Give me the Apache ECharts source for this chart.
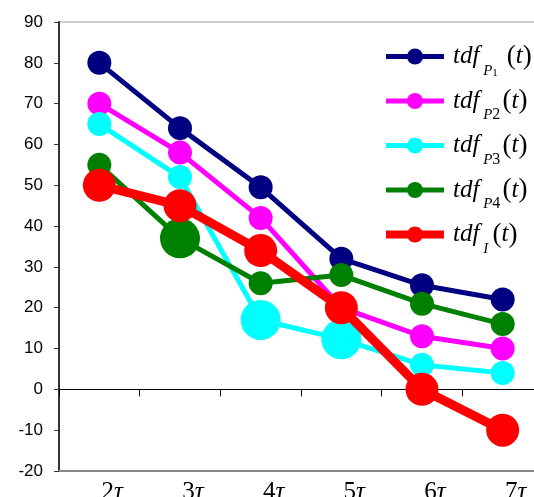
<!DOCTYPE html>
<html><head><meta charset="utf-8">
<script src="https://cdn.jsdelivr.net/npm/echarts@6/dist/echarts.min.js"></script>
<style>html,body{margin:0;padding:0;background:#fff}#c{width:534px;height:497px}</style>
</head><body><div id="c"></div>
<script>
const categories = ['2', '3', '4', '5', '6', '7'];
const seriesNames = ['P1', 'P2', 'P3', 'P4', 'I'];
const valuesP1 = [80, 64, 49.5, 32, 25.5, 22];
const valuesP2 = [70, 58, 42, 20, 13, 10];
const valuesP3 = [65, 52, 17, 12.3, 6, 4];
const valuesP4 = [55, 37, 26, 28, 21, 16];
const valuesI = [50, 45, 34, 20, 0, -10];
const yTicks = {min: -20, max: 90, interval: 10};

const chart = echarts.init(document.getElementById('c'));
const serif = 'Liberation Serif';
const colors = ['#000080', '#FF00FF', '#00FFFF', '#008000', '#FF0000'];
const bigIdx = {P3: [2, 3], P4: [1]};
const allVals = [valuesP1, valuesP2, valuesP3, valuesP4, valuesI];

const series = seriesNames.map((n, k) => ({
  name: n,
  type: 'line',
  data: allVals[k],
  symbol: 'circle',
  symbolSize: (v, p) => n === 'I' ? 33 : ((bigIdx[n] || []).includes(p.dataIndex) ? 40 : 24),
  lineStyle: {color: colors[k], width: n === 'I' ? 9 : 5},
  itemStyle: {color: colors[k]},
  z: 2 + k
}));

const richLeg = {
  a: {fontFamily: serif, fontStyle: 'italic', fontSize: 25, color: '#000', lineHeight: 44},
  b: {fontFamily: serif, fontSize: 27, color: '#000', lineHeight: 44},
  p: {fontFamily: serif, fontStyle: 'italic', fontSize: 15, color: '#000', verticalAlign: 'bottom', lineHeight: 29},
  q: {fontFamily: serif, fontSize: 16, color: '#000', verticalAlign: 'bottom', lineHeight: 29},
  s: {fontFamily: serif, fontSize: 11, color: '#000', verticalAlign: 'bottom', lineHeight: 14},
  g: {fontSize: 8, lineHeight: 10}
};

chart.setOption({
  animation: false,
  color: colors,
  grid: {left: 59, top: 22, right: -9, bottom: 26, outerBoundsMode: 'none', show: true, borderColor: '#a0a0a0', borderWidth: 1, containLabel: false},
  legend: {
    orient: 'vertical', left: 382, top: 43, padding: 0, itemWidth: 58, itemHeight: 20, itemGap: 9,
    data: seriesNames.map((n, k) => ({name: n, lineStyle: {color: colors[k], width: n === 'I' ? 8 : 5}, itemStyle: {color: colors[k]}})),
    formatter: n => {
      if (n === 'P1') return '{a|tdf}{p| P}{s|1}{g|    }{b|(}{a|t}{b|)}';
      if (n === 'I') return '{a|tdf}{p| I}{g|  }{b|(}{a|t}{b|)}';
      return '{a|tdf}{p| P}{q|' + n.slice(1) + '}{g| }{b|(}{a|t}{b|)}';
    },
    textStyle: {rich: richLeg, padding: [0, 0, 0, 4]}
  },
  xAxis: [{
    type: 'category', data: categories, boundaryGap: true,
    axisLine: {onZero: true, lineStyle: {color: '#000', width: 1}},
    axisTick: {show: true, length: 7, lineStyle: {color: '#000'}},
    axisLabel: {show: false}, splitLine: {show: false}
  }, {
    type: 'category', data: categories, position: 'bottom', boundaryGap: true,
    axisLine: {show: true, onZero: false, lineStyle: {color: '#888', width: 2}},
    axisTick: {show: false},
    axisLabel: {margin: 9, padding: [0, 0, 0, 26], formatter: v => '{n|' + v + '}{t|τ}', rich: {
      n: {fontFamily: serif, fontSize: 25, color: '#000'},
      t: {fontFamily: serif, fontSize: 25, fontStyle: 'italic', color: '#000'}
    }},
    splitLine: {show: false}
  }],
  yAxis: {
    type: 'value', min: yTicks.min, max: yTicks.max, interval: yTicks.interval,
    axisLine: {show: true, lineStyle: {color: '#333', width: 2}},
    axisTick: {show: true, length: 5, lineStyle: {color: '#333'}},
    axisLabel: {fontFamily: 'Liberation Sans', fontSize: 17, color: '#000', margin: 16},
    splitLine: {show: false}
  },
  series: series
});
</script></body></html>
